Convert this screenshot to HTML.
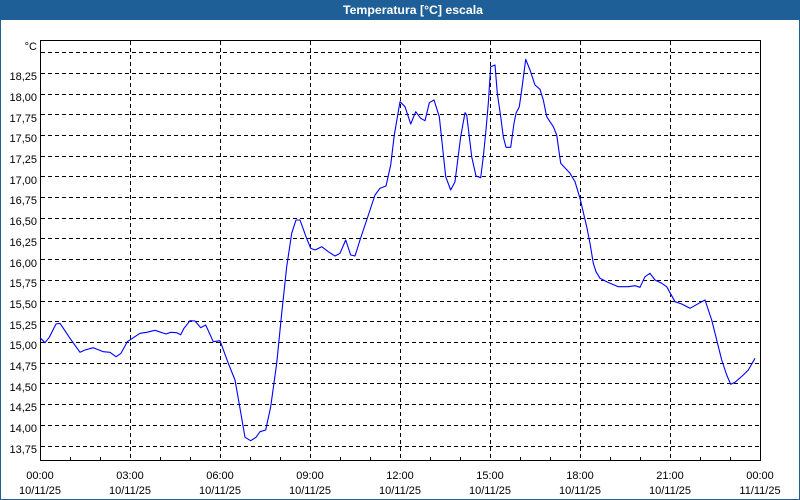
<!DOCTYPE html>
<html>
<head>
<meta charset="utf-8">
<style>
  html,body{margin:0;padding:0;background:#fff;}
  svg{display:block;}
  text{font-family:"Liberation Sans",Arial,sans-serif;font-size:11px;fill:#000;}
</style>
</head>
<body>
<svg width="800" height="500" viewBox="0 0 800 500" xmlns="http://www.w3.org/2000/svg">
  <!-- background & frame -->
  <rect x="0" y="0" width="800" height="500" fill="#ffffff"/>
  <rect x="0.5" y="0.5" width="799" height="499" fill="none" stroke="#1f5f98" stroke-width="1"/>
  <rect x="0" y="0" width="800" height="20" fill="#1f5f98"/>
  <text x="343" y="14" textLength="140" lengthAdjust="spacingAndGlyphs" style="font-weight:bold;font-size:12px;fill:#ffffff;">Temperatura [°C] escala</text>

  <!-- horizontal grid -->
  <g stroke="#000" stroke-width="1" stroke-dasharray="4,3" shape-rendering="crispEdges">
    <line x1="41" y1="446.5" x2="760" y2="446.5"/>
    <line x1="41" y1="425.5" x2="760" y2="425.5"/>
    <line x1="41" y1="404.5" x2="760" y2="404.5"/>
    <line x1="41" y1="383.5" x2="760" y2="383.5"/>
    <line x1="41" y1="363.5" x2="760" y2="363.5"/>
    <line x1="41" y1="342.5" x2="760" y2="342.5"/>
    <line x1="41" y1="321.5" x2="760" y2="321.5"/>
    <line x1="41" y1="301.5" x2="760" y2="301.5"/>
    <line x1="41" y1="280.5" x2="760" y2="280.5"/>
    <line x1="41" y1="259.5" x2="760" y2="259.5"/>
    <line x1="41" y1="238.5" x2="760" y2="238.5"/>
    <line x1="41" y1="218.5" x2="760" y2="218.5"/>
    <line x1="41" y1="197.5" x2="760" y2="197.5"/>
    <line x1="41" y1="176.5" x2="760" y2="176.5"/>
    <line x1="41" y1="156.5" x2="760" y2="156.5"/>
    <line x1="41" y1="135.5" x2="760" y2="135.5"/>
    <line x1="41" y1="114.5" x2="760" y2="114.5"/>
    <line x1="41" y1="94.5" x2="760" y2="94.5"/>
    <line x1="41" y1="73.5" x2="760" y2="73.5"/>
    <line x1="41" y1="52.5" x2="760" y2="52.5"/>
  </g>
  <!-- vertical grid -->
  <g stroke="#000" stroke-width="1" stroke-dasharray="4,3" shape-rendering="crispEdges">
    <line x1="130.5" y1="41" x2="130.5" y2="460"/>
    <line x1="220.5" y1="41" x2="220.5" y2="460"/>
    <line x1="310.5" y1="41" x2="310.5" y2="460"/>
    <line x1="400.5" y1="41" x2="400.5" y2="460"/>
    <line x1="490.5" y1="41" x2="490.5" y2="460"/>
    <line x1="580.5" y1="41" x2="580.5" y2="460"/>
    <line x1="670.5" y1="41" x2="670.5" y2="460"/>
  </g>
  <!-- minor ticks -->
  <g stroke="#000" stroke-width="1" shape-rendering="crispEdges">
    <line x1="70.5" y1="457" x2="70.5" y2="460"/>
    <line x1="100.5" y1="457" x2="100.5" y2="460"/>
    <line x1="160.5" y1="457" x2="160.5" y2="460"/>
    <line x1="190.5" y1="457" x2="190.5" y2="460"/>
    <line x1="250.5" y1="457" x2="250.5" y2="460"/>
    <line x1="280.5" y1="457" x2="280.5" y2="460"/>
    <line x1="340.5" y1="457" x2="340.5" y2="460"/>
    <line x1="370.5" y1="457" x2="370.5" y2="460"/>
    <line x1="430.5" y1="457" x2="430.5" y2="460"/>
    <line x1="460.5" y1="457" x2="460.5" y2="460"/>
    <line x1="520.5" y1="457" x2="520.5" y2="460"/>
    <line x1="550.5" y1="457" x2="550.5" y2="460"/>
    <line x1="610.5" y1="457" x2="610.5" y2="460"/>
    <line x1="640.5" y1="457" x2="640.5" y2="460"/>
    <line x1="700.5" y1="457" x2="700.5" y2="460"/>
    <line x1="730.5" y1="457" x2="730.5" y2="460"/>
  </g>
  <!-- axes box -->
  <rect x="40.5" y="40.5" width="720" height="420" fill="none" stroke="#000" stroke-width="1" shape-rendering="crispEdges"/>

  <!-- data -->
  <polyline fill="none" stroke="#0000ff" stroke-width="1.1" stroke-linejoin="round" points="
40,337.7 45,342.7 49.3,337.3 56,324 60,323.3 70,338.3 80,352.3 85,350 93.3,347.7 103.3,351.7 110,352.3 116,356.7 121,353.3 127.3,341.7 140,333.3 146.7,332.3 155,330.3 166,334 170.7,332.3 176.7,332.7 180.7,334.7 184,328.3 190,320.7 195,321 200.7,327.7 205.7,325 213.3,341.7 220,340.7 228.3,363.3 235,380 240,408.3 245,437.3 250.7,440.7 256,437.3 260,431.7 265.7,430 270.7,406.7 276.7,363.3 281.7,313.3 286.7,266.7 291.7,233.3 296,220 300,220 306,236.7 310.7,248.3 315,250 321.7,246.7 328.3,251.7 335,256 340,253.3 345.7,240 350.7,255 355,256 360,240 366.7,220 375,195 380,188.3 386,186 390.7,165 394.3,135 400,101.7 405,106.7 410.7,124 415.7,111.7 420.7,118.3 425,120.7 429.3,102.7 434,100 439.3,116.7 445.7,176.7 450.7,190 455,181.7 460.7,136.7 465,112.7 466.7,115 471.7,156.7 476,176 480.7,177.7 483.3,156.7 486,130 488.3,103.3 490.7,66.7 495,65 497.3,93.3 500.7,116.7 503.3,136.7 506,147.3 510.7,147.3 514,123.3 516,113.3 519.3,106.7 521.7,90 525.7,59.3 530,70 535,85 540,89.3 543.3,100 546.7,116.7 553.3,126.7 556.7,135 560.7,163.3 570,173.3 575,181.7 580,198.3 586.7,226.7 590,243.3 593.3,263.3 596,271.7 600,278.3 606.7,281.7 618.3,286.7 628.3,286.7 635,285.7 640,287.3 645,276.7 650,273.3 655,280 661.7,283.3 666.7,286.7 675,301.7 681.7,304 690,308.3 700,302.7 705,300 711.7,320 716.7,340 721.7,360 726.7,375 730.7,384.3 735,382.3 743.3,375 748.3,370 755,358.3"/>

  <!-- y labels -->
  <g text-anchor="end">
    <text x="37" y="50">°C</text>
    <text x="37" y="80">18,25</text>
    <text x="37" y="101">18,00</text>
    <text x="37" y="122">17,75</text>
    <text x="37" y="142">17,50</text>
    <text x="37" y="163">17,25</text>
    <text x="37" y="184">17,00</text>
    <text x="37" y="204">16,75</text>
    <text x="37" y="225">16,50</text>
    <text x="37" y="246">16,25</text>
    <text x="37" y="267">16,00</text>
    <text x="37" y="287">15,75</text>
    <text x="37" y="308">15,50</text>
    <text x="37" y="329">15,25</text>
    <text x="37" y="349">15,00</text>
    <text x="37" y="370">14,75</text>
    <text x="37" y="391">14,50</text>
    <text x="37" y="411">14,25</text>
    <text x="37" y="432">14,00</text>
    <text x="37" y="453">13,75</text>
  </g>

  <!-- x labels -->
  <g text-anchor="middle">
    <text x="40" y="479">00:00</text><text x="40" y="494">10/11/25</text>
    <text x="130" y="479">03:00</text><text x="130" y="494">10/11/25</text>
    <text x="220" y="479">06:00</text><text x="220" y="494">10/11/25</text>
    <text x="310" y="479">09:00</text><text x="310" y="494">10/11/25</text>
    <text x="400" y="479">12:00</text><text x="400" y="494">10/11/25</text>
    <text x="490" y="479">15:00</text><text x="490" y="494">10/11/25</text>
    <text x="580" y="479">18:00</text><text x="580" y="494">10/11/25</text>
    <text x="670" y="479">21:00</text><text x="670" y="494">10/11/25</text>
    <text x="760" y="479">00:00</text><text x="760" y="494">11/11/25</text>
  </g>
</svg>
</body>
</html>
